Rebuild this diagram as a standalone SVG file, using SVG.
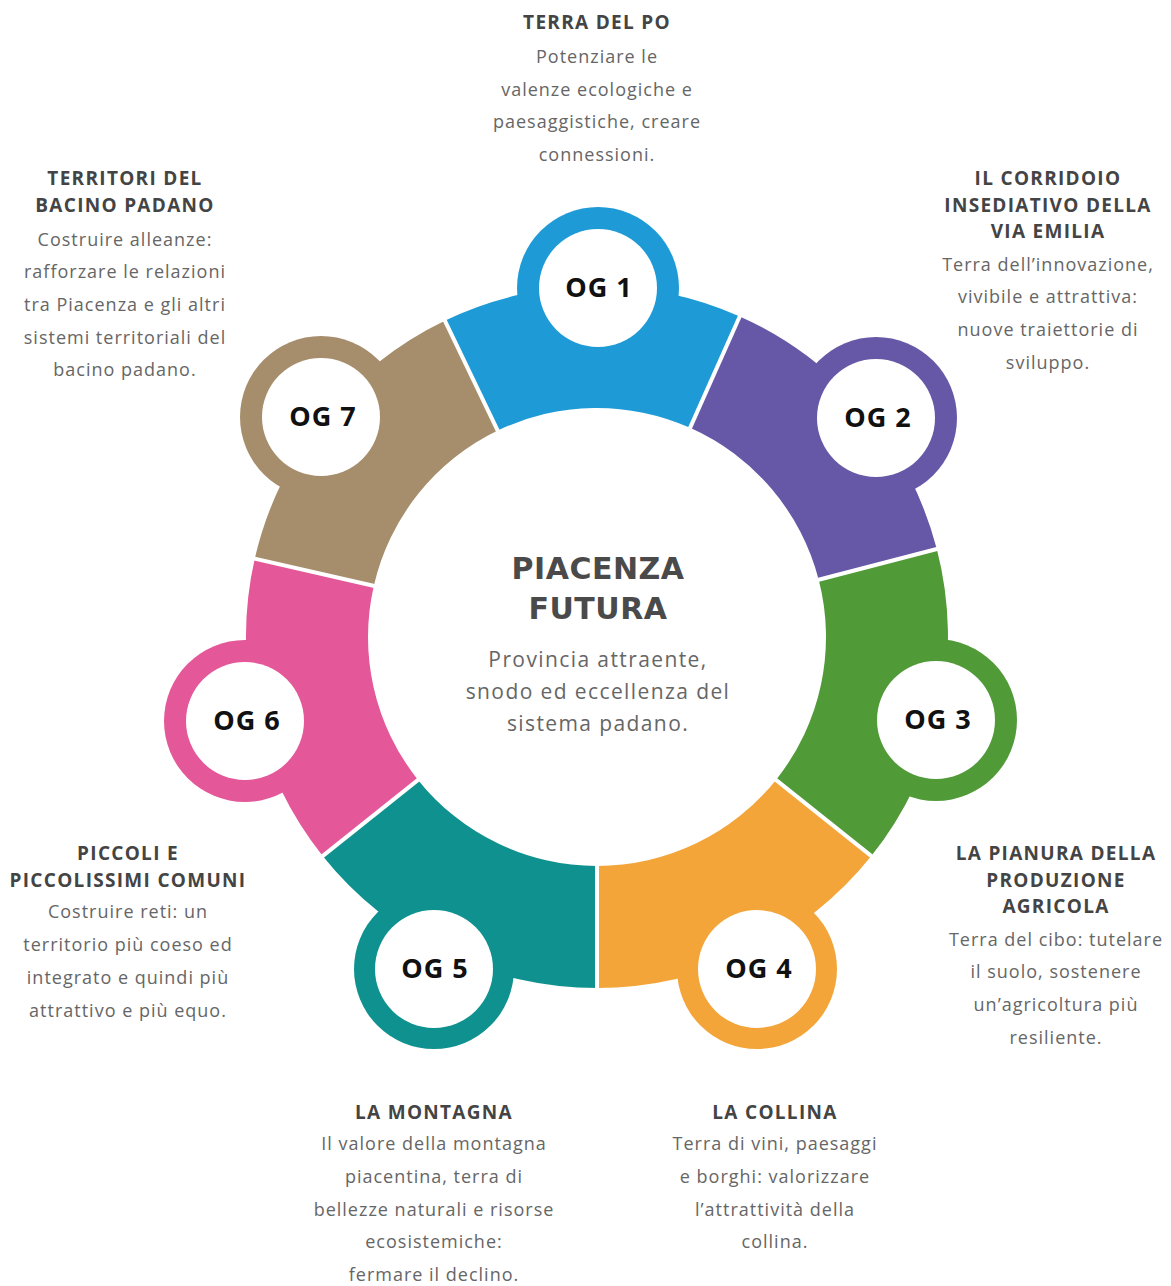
<svg xmlns="http://www.w3.org/2000/svg" width="1171" height="1286" viewBox="0 0 1171 1286">
<style>
text{font-family:"Open Sans","Liberation Sans",sans-serif;text-anchor:middle}
.h{font-size:19px;font-weight:700;fill:#444;letter-spacing:1.3px}
.b{font-size:18px;font-weight:400;fill:#666;letter-spacing:1px}
.og{font-size:27px;font-weight:700;fill:#111;letter-spacing:1px}
.hole{fill:#fff}
.sep{stroke:#fff;stroke-width:4;fill:none}
.t1{font-family:"DejaVu Sans","Open Sans",sans-serif;font-size:30px;font-weight:700;fill:#4a4a4a;letter-spacing:0.5px}
.t2{font-size:21px;font-weight:400;fill:#666;letter-spacing:1.4px}
</style>
<rect width="1171" height="1286" fill="#fff"/>

<g id="og1">
<path fill="#1e9bd7" d="M444.8,320.7 A351,351 0 0 1 739.8,316.4 L690.1,427.8 A229,229 0 0 0 497.7,430.6 Z"/>
<circle cx="598" cy="288" r="81" fill="#1e9bd7"/>
<circle class="hole" cx="598" cy="288" r="59"/>
<text class="og" x="599" y="297">OG 1</text>
<text class="h" x="597" y="29">TERRA DEL PO</text>
<text class="b" x="597" y="63">Potenziare le</text>
<text class="b" x="597" y="96">valenze ecologiche e</text>
<text class="b" x="597" y="128">paesaggistiche, creare</text>
<text class="b" x="597" y="161">connessioni.</text>
</g>

<g id="og2">
<path fill="#6658a6" d="M739.8,316.4 A351,351 0 0 1 936.8,549.1 L818.7,579.7 A229,229 0 0 0 690.1,427.8 Z"/>
<circle cx="876" cy="418" r="81" fill="#6658a6"/>
<circle class="hole" cx="876" cy="418" r="59"/>
<text class="og" x="878" y="427">OG 2</text>
<text class="h" x="1048" y="185">IL CORRIDOIO</text>
<text class="h" x="1048" y="212">INSEDIATIVO DELLA</text>
<text class="h" x="1048" y="238">VIA EMILIA</text>
<text class="b" x="1048" y="271">Terra dell’innovazione,</text>
<text class="b" x="1048" y="303">vivibile e attrattiva:</text>
<text class="b" x="1048" y="336">nuove traiettorie di</text>
<text class="b" x="1048" y="369">sviluppo.</text>
</g>

<g id="og3">
<path fill="#519a38" d="M936.8,549.1 A351,351 0 0 1 871.3,856.0 L776.0,779.9 A229,229 0 0 0 818.7,579.7 Z"/>
<circle cx="936" cy="720" r="81" fill="#519a38"/>
<circle class="hole" cx="936" cy="720" r="59"/>
<text class="og" x="938" y="729">OG 3</text>
<text class="h" x="1056" y="860">LA PIANURA DELLA</text>
<text class="h" x="1056" y="887">PRODUZIONE</text>
<text class="h" x="1056" y="913">AGRICOLA</text>
<text class="b" x="1056" y="946">Terra del cibo: tutelare</text>
<text class="b" x="1056" y="978">il suolo, sostenere</text>
<text class="b" x="1056" y="1011">un’agricoltura più</text>
<text class="b" x="1056" y="1044">resiliente.</text>
</g>

<g id="og4">
<path fill="#f3a53a" d="M871.3,856.0 A351,351 0 0 1 597,988 L597,866 A229,229 0 0 0 776.0,779.9 Z"/>
<circle cx="757" cy="969" r="80" fill="#f3a53a"/>
<circle class="hole" cx="757" cy="969" r="59"/>
<text class="og" x="759" y="978">OG 4</text>
<text class="h" x="775" y="1119">LA COLLINA</text>
<text class="b" x="775" y="1150">Terra di vini, paesaggi</text>
<text class="b" x="775" y="1183">e borghi: valorizzare</text>
<text class="b" x="775" y="1216">l’attrattività della</text>
<text class="b" x="775" y="1248">collina.</text>
</g>

<g id="og5">
<path fill="#0f928f" d="M597,988 A351,351 0 0 1 322.7,856.0 L418.0,779.9 A229,229 0 0 0 597,866 Z"/>
<circle cx="434" cy="969" r="80" fill="#0f928f"/>
<circle class="hole" cx="434" cy="969" r="59"/>
<text class="og" x="435" y="978">OG 5</text>
<text class="h" x="434" y="1119">LA MONTAGNA</text>
<text class="b" x="434" y="1150">Il valore della montagna</text>
<text class="b" x="434" y="1183">piacentina, terra di</text>
<text class="b" x="434" y="1216">bellezze naturali e risorse</text>
<text class="b" x="434" y="1248">ecosistemiche:</text>
<text class="b" x="434" y="1281">fermare il declino.</text>
</g>

<g id="og6">
<path fill="#e45799" d="M322.7,856.0 A351,351 0 0 1 254.8,558.6 L373.8,585.9 A229,229 0 0 0 418.0,779.9 Z"/>
<circle cx="245" cy="721" r="81" fill="#e45799"/>
<circle class="hole" cx="245" cy="721" r="59"/>
<text class="og" x="247" y="730">OG 6</text>
<text class="h" x="128" y="860">PICCOLI E</text>
<text class="h" x="128" y="887">PICCOLISSIMI COMUNI</text>
<text class="b" x="128" y="918">Costruire reti: un</text>
<text class="b" x="128" y="951">territorio più coeso ed</text>
<text class="b" x="128" y="984">integrato e quindi più</text>
<text class="b" x="128" y="1017">attrattivo e più equo.</text>
</g>

<g id="og7">
<path fill="#a68e6c" d="M254.8,558.6 A351,351 0 0 1 444.8,320.7 L497.7,430.6 A229,229 0 0 0 373.8,585.9 Z"/>
<circle cx="321" cy="417" r="81" fill="#a68e6c"/>
<circle class="hole" cx="321" cy="417" r="59"/>
<text class="og" x="323" y="426">OG 7</text>
<text class="h" x="125" y="185">TERRITORI DEL</text>
<text class="h" x="125" y="212">BACINO PADANO</text>
<text class="b" x="125" y="246">Costruire alleanze:</text>
<text class="b" x="125" y="278">rafforzare le relazioni</text>
<text class="b" x="125" y="311">tra Piacenza e gli altri</text>
<text class="b" x="125" y="344">sistemi territoriali del</text>
<text class="b" x="125" y="376">bacino padano.</text>
</g>

<g id="separators">
<line class="sep" x1="499.5" y1="434.4" x2="442.7" y2="316.2"/>
<line class="sep" x1="688.4" y1="431.6" x2="741.8" y2="311.8"/>
<line class="sep" x1="814.8" y1="580.7" x2="941.7" y2="547.8"/>
<line class="sep" x1="772.8" y1="777.4" x2="875.2" y2="859.1"/>
<line class="sep" x1="597" y1="862" x2="597" y2="993"/>
<line class="sep" x1="421.2" y1="777.4" x2="318.8" y2="859.1"/>
<line class="sep" x1="377.7" y1="586.8" x2="249.9" y2="557.5"/>
</g>

<g id="center">
<text class="t1" x="598" y="579">PIACENZA</text>
<text class="t1" x="598" y="619">FUTURA</text>
<text class="t2" x="598" y="667">Provincia attraente,</text>
<text class="t2" x="598" y="699">snodo ed eccellenza del</text>
<text class="t2" x="598" y="731">sistema padano.</text>
</g>
</svg>
